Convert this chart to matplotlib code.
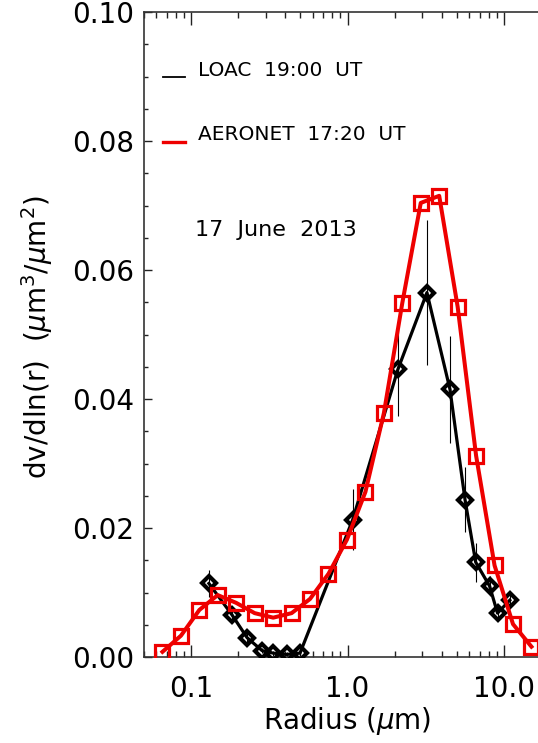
import numpy as np
import matplotlib
matplotlib.use("Agg")
from matplotlib import pyplot as plt
from matplotlib.ticker import FixedLocator, MultipleLocator, FormatStrFormatter, NullFormatter

plt.rcParams['font.family'] = ['DejaVu Sans']
plt.rcParams['mathtext.fontset'] = 'dejavusans'

# AERONET inversion, 17:20 UT
aeronetRadius = [0.0656, 0.0861, 0.113, 0.148, 0.194, 0.255, 0.335, 0.439, 0.576, 0.756, 0.992,
                 1.302, 1.708, 2.241, 2.940, 3.857, 5.061, 6.641, 8.713, 11.43, 15.0]
aeronetDv = [0.0008, 0.0033, 0.0073, 0.0096, 0.0084, 0.0068, 0.0061, 0.0068, 0.0090, 0.0129, 0.0182,
             0.0256, 0.0378, 0.0549, 0.0704, 0.0715, 0.0543, 0.0312, 0.0142, 0.0051, 0.0016]

# LOAC balloon profile, 19:00 UT
loacRadius = [0.130, 0.183, 0.228, 0.284, 0.334, 0.410, 0.497,
              1.08, 2.10, 3.22, 4.52, 5.64, 6.6, 8.1, 9.1, 10.9]
loacDv = [0.0114, 0.0065, 0.0030, 0.0010, 0.0006, 0.0004, 0.0006,
          0.0213, 0.0446, 0.0565, 0.0415, 0.0244, 0.0147, 0.0110, 0.0068, 0.0088]
loacErr = [0.0021, 0.0010, 0.0008, 0.0004, 0.0004, 0.0004, 0.0004,
           0.0047, 0.0073, 0.0113, 0.0083, 0.0050, 0.0030, 0.0015, 0.0010, 0.0010]

xTicks = [0.1, 1.0, 10.0]
xTickLabels = ['0.1', '1.0', '10.0']

W, H = 538, 743
fig = plt.figure(figsize=(W / 100, H / 100), dpi=100)
# axes runs past the right border of the figure (x up to 20 um)
axL, axR, axT, axB = 144, 551, 12, 657
ax = fig.add_axes([axL / W, 1 - axB / H, (axR - axL) / W, (axB - axT) / H])

ax.errorbar(loacRadius, loacDv, yerr=loacErr, fmt='none', ecolor='black', elinewidth=0.8, capsize=0, zorder=2)
ax.plot(loacRadius, loacDv, color='black', lw=2.3, marker='D', ms=7.5, mfc='none', mec='black', mew=3.0, zorder=3)
ax.plot(aeronetRadius, aeronetDv, color='#ee0000', lw=2.9, marker='s', ms=9.5, mfc='none', mec='#ee0000', mew=2.3, zorder=4)

ax.set_xscale('log')
ax.set_xlim(0.05, 20)
ax.set_ylim(0, 0.10)

ax.xaxis.set_major_locator(FixedLocator(xTicks))
ax.set_xticklabels(xTickLabels)
ax.xaxis.set_minor_locator(FixedLocator([v * d for d in (0.01, 0.1, 1, 10) for v in range(2, 10)]))
ax.xaxis.set_minor_formatter(NullFormatter())
ax.yaxis.set_major_locator(MultipleLocator(0.02))
ax.yaxis.set_minor_locator(MultipleLocator(0.005))
ax.yaxis.set_major_formatter(FormatStrFormatter('%.2f'))

ax.tick_params(axis='both', which='both', direction='in', labelsize=20, color='#222222')
ax.tick_params(axis='x', which='major', length=9, width=1, top=True, pad=13)
ax.tick_params(axis='x', which='minor', length=4.5, width=1, top=True)
ax.tick_params(axis='y', which='major', length=6, width=1, right=False, pad=7)
ax.tick_params(axis='y', which='minor', length=3, width=1, right=False)
for s in ax.spines.values():
    s.set_linewidth(1.2)
    s.set_color('#333333')
ax.spines['right'].set_visible(False)

ax.set_xlabel(r'Radius ($\mu$m)', fontsize=20)
ax.xaxis.set_label_coords(0.5, -0.075)
ax.set_ylabel(r'dv/dln(r)  ($\mu$m$^3$/$\mu$m$^2$)', fontsize=20)
ax.yaxis.set_label_coords(-0.219, 0.496)

# key drawn by hand
def fx(px):
    return (px - axL) / (axR - axL)
def fy(py):
    return (axB - py) / (axB - axT)

ax.plot([fx(163), fx(185)], [fy(77), fy(77)], color='black', lw=1.3, transform=ax.transAxes, clip_on=False)
ax.text(fx(198), fy(71), 'LOAC  19:00  UT', fontsize=14.5, va='center', ha='left', transform=ax.transAxes)
ax.plot([fx(163), fx(185)], [fy(142), fy(142)], color='#ee0000', lw=2.4, transform=ax.transAxes, clip_on=False)
ax.text(fx(198), fy(135), 'AERONET  17:20  UT', fontsize=14.5, va='center', ha='left', transform=ax.transAxes)
ax.text(fx(195), fy(230), '17  June  2013', fontsize=16, va='center', ha='left', transform=ax.transAxes)

fig.savefig('out.png', dpi=100)
